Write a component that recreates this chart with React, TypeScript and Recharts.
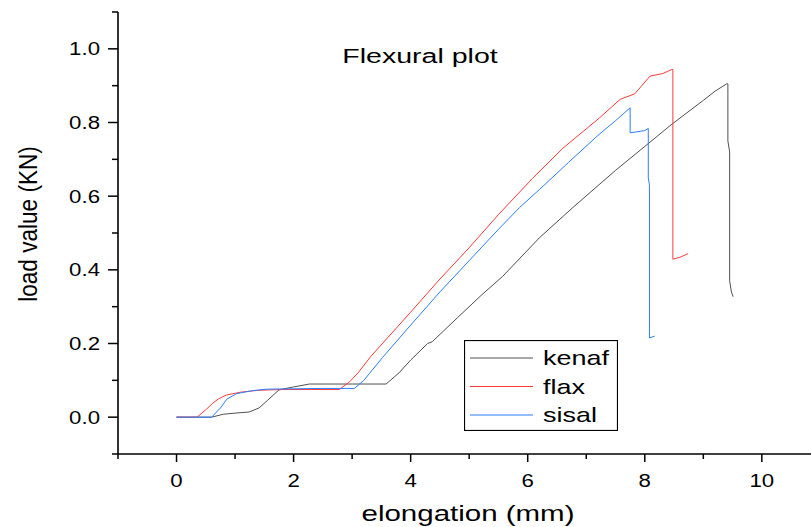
import { LineChart, Line, XAxis, YAxis, Legend } from 'recharts';

// elongation (mm) / load (KN)
const kenafElong = [0, 0.6, 0.8, 1.0, 1.24, 1.41, 1.55, 1.75, 2.0, 2.27, 3.0, 3.58, 3.8, 4.0, 4.29, 4.37, 4.8, 5.2, 5.57, 6.2, 6.77, 7.5, 8.0, 8.46, 9.0, 9.2, 9.4, 9.42, 9.42, 9.45, 9.45, 9.48, 9.51];
const kenafLoad = [0, 0, 0.008, 0.011, 0.014, 0.025, 0.045, 0.074, 0.082, 0.09, 0.09, 0.09, 0.12, 0.155, 0.2, 0.205, 0.27, 0.33, 0.382, 0.487, 0.569, 0.67, 0.735, 0.795, 0.86, 0.885, 0.905, 0.905, 0.75, 0.72, 0.37, 0.34, 0.327];

const flaxElong = [0, 0.35, 0.5, 0.62, 0.72, 0.85, 1.1, 1.4, 1.8, 2.3, 2.78, 2.95, 3.1, 3.32, 4.0, 4.5, 5.0, 5.5, 6.08, 6.6, 7.23, 7.58, 7.83, 8.09, 8.31, 8.46, 8.48, 8.48, 8.6, 8.74];
const flaxLoad = [0, 0, 0.02, 0.038, 0.05, 0.06, 0.068, 0.073, 0.075, 0.075, 0.075, 0.095, 0.12, 0.165, 0.285, 0.375, 0.46, 0.55, 0.648, 0.73, 0.813, 0.863, 0.878, 0.926, 0.933, 0.944, 0.944, 0.429, 0.434, 0.444];

const sisalElong = [0, 0.6, 0.75, 0.86, 1.03, 1.3, 1.53, 2.0, 2.5, 3.04, 3.2, 3.52, 4.0, 4.5, 5.0, 5.5, 5.86, 6.2, 6.7, 7.2, 7.5, 7.75, 7.75, 8.0, 8.06, 8.06, 8.08, 8.08, 8.17];
const sisalLoad = [0, 0, 0.025, 0.049, 0.064, 0.072, 0.076, 0.077, 0.078, 0.078, 0.1, 0.162, 0.25, 0.34, 0.425, 0.51, 0.569, 0.618, 0.692, 0.765, 0.805, 0.84, 0.772, 0.778, 0.784, 0.65, 0.63, 0.215, 0.22];

const xTicks = [-1, 0, 1, 2, 3, 4, 5, 6, 7, 8, 9, 10];
const yTicks = [-0.1, 0, 0.1, 0.2, 0.3, 0.4, 0.5, 0.6, 0.7, 0.8, 0.9, 1.0, 1.1];

const FONT = '"Liberation Sans", Arial, sans-serif';

const toPoints = (xs: number[], ys: number[]) => xs.map((x, i) => ({ x, y: ys[i] }));

const series = [
    { name: 'kenaf', color: '#505050', data: toPoints(kenafElong, kenafLoad) },
    { name: 'flax', color: '#ff3b3b', data: toPoints(flaxElong, flaxLoad) },
    { name: 'sisal', color: '#2b7fff', data: toPoints(sisalElong, sisalLoad) },
];
const seriesOrder = series.map((s) => s.name);

// stretched text, the original picture is wider than it is tall
const StretchText = ({ x, y, sx, size, anchor, children }: any) => (
    <text
        transform={`translate(${x},${y}) scale(${sx},1)`}
        textAnchor={anchor}
        fontFamily={FONT}
        fontSize={size}
        fill="#000"
    >
        {children}
    </text>
);

const XTick = (props: any) => {
    const { x, y, payload } = props;
    const v = payload.value;
    const major = v >= 0 && v % 2 === 0;
    return (
        <g>
            <line x1={x} y1={y} x2={x} y2={y + (major ? 8 : 5)} stroke="#000" strokeWidth={1.5} />
            {major && (
                <StretchText x={x} y={y + 33} sx={1.27} size={17.5} anchor="middle">
                    {v}
                </StretchText>
            )}
        </g>
    );
};

const YTick = (props: any) => {
    const { x, y, payload } = props;
    const v = payload.value;
    const major = Math.round(v * 10) % 2 === 0 && v >= 0 && v <= 1;
    return (
        <g>
            <line x1={x} y1={y} x2={x - (major ? 10 : 6)} y2={y} stroke="#000" strokeWidth={1.5} />
            {major && (
                <StretchText x={x - 18} y={y + 6.5} sx={1.27} size={17.5} anchor="end">
                    {v.toFixed(1)}
                </StretchText>
            )}
        </g>
    );
};

const LegendBox = ({ payload }: any) => {
    const items = [...(payload || [])].sort(
        (a: any, b: any) => seriesOrder.indexOf(a.value) - seriesOrder.indexOf(b.value)
    );
    return (
        <svg width={154} height={91} style={{ display: 'block' }}>
            <rect x={0.5} y={0.5} width={153} height={90} fill="#fff" stroke="#000" strokeWidth={1.2} />
            {items.map((p: any, i: number) => {
                const cy = 18 + i * 28.5;
                return (
                    <g key={p.value}>
                        <line x1={6} y1={cy} x2={69} y2={cy} stroke={p.color} strokeWidth={1.2} />
                        <StretchText x={79} y={cy + 7} sx={1.35} size={20} anchor="start">
                            {p.value}
                        </StretchText>
                    </g>
                );
            })}
        </svg>
    );
};

export default function App() {
    return (
        <div style={{ position: 'absolute', left: 0, top: 0, background: '#fff' }}>
            <LineChart width={811} height={527} margin={{ top: 12, right: 0, bottom: 0, left: 0 }}>
                <XAxis
                    dataKey="x"
                    type="number"
                    domain={[-1, 10.84]}
                    allowDataOverflow
                    ticks={xTicks}
                    interval={0}
                    height={73}
                    tickSize={0}
                    tickMargin={0}
                    tickLine={false}
                    tick={<XTick />}
                    axisLine={{ stroke: '#000', strokeWidth: 1.6 }}
                />
                <YAxis
                    dataKey="y"
                    type="number"
                    domain={[-0.1, 1.1]}
                    allowDataOverflow
                    ticks={yTicks}
                    interval={0}
                    width={118}
                    tickSize={0}
                    tickMargin={0}
                    tickLine={false}
                    tick={<YTick />}
                    axisLine={{ stroke: '#000', strokeWidth: 1.6 }}
                />
                {series.map((s) => (
                    <Line
                        key={s.name}
                        name={s.name}
                        data={s.data}
                        dataKey="y"
                        type="linear"
                        stroke={s.color}
                        strokeWidth={1}
                        dot={false}
                        activeDot={false}
                        isAnimationActive={false}
                    />
                ))}
                <Legend
                    layout="horizontal"
                    verticalAlign="middle"
                    align="center"
                    content={<LegendBox />}
                    wrapperStyle={{ left: 464, top: 340, width: 154, height: 91 }}
                />
                <StretchText x={420} y={63} sx={1.36} size={21} anchor="middle">
                    Flexural plot
                </StretchText>
                <StretchText x={468} y={521} sx={1.34} size={22} anchor="middle">
                    elongation (mm)
                </StretchText>
                <text
                    transform="translate(37,224) scale(1.18,1) rotate(-90)"
                    textAnchor="middle"
                    fontFamily={FONT}
                    fontSize={22.6}
                    fill="#000"
                >
                    load value (KN)
                </text>
            </LineChart>
        </div>
    );
}
